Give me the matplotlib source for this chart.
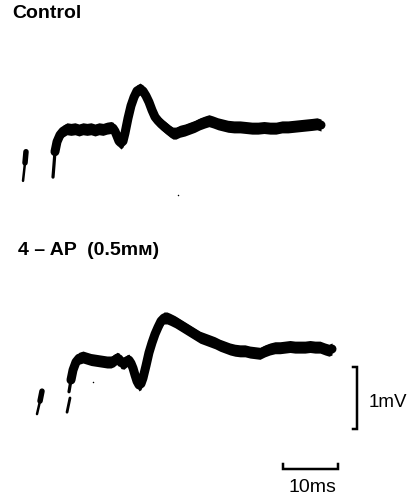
import numpy as np
import matplotlib
matplotlib.use("Agg")
import matplotlib.pyplot as plt

# ---------------- data (time in ms, voltage in mV relative to trace baseline) -------------
ctrl_t = [6.0, 6.18, 6.36, 6.73, 7.27, 7.82, 8.55, 9.27, 10.0, 10.73, 11.45, 12.18, 12.91,
          13.64, 14.36, 15.09, 15.82, 16.55, 16.91, 17.27, 17.64, 18.0, 18.36, 18.73, 19.09,
          19.64, 20.18, 20.73, 21.27, 21.82, 22.36, 22.91, 23.45, 24.0, 24.55, 25.09, 25.64,
          26.18, 26.73, 27.27, 27.82, 28.36, 29.09, 30.0, 30.91, 31.82, 32.73, 33.64, 34.36,
          35.09, 36.0, 36.91, 37.82, 38.91, 40.0, 41.09, 42.18, 43.27, 44.36, 45.45, 46.55,
          47.64, 48.73, 49.82, 50.91, 52.0, 53.09, 54.0, 54.73]
ctrl_v = [-0.76, -0.56, -0.35, -0.19, -0.08, -0.02, 0.02, 0.01, 0.02, 0.0, 0.02, 0.01, 0.02,
          0.0, 0.02, 0.01, 0.03, 0.04, 0.03, -0.02, -0.10, -0.18, -0.21, -0.18, -0.05,
          0.19, 0.39, 0.53, 0.63, 0.66, 0.63, 0.55, 0.45, 0.32, 0.21, 0.15, 0.10,
          0.06, 0.02, -0.02, -0.05, -0.05, -0.02, 0.0, 0.03, 0.06, 0.10, 0.13, 0.15,
          0.13, 0.10, 0.08, 0.06, 0.05, 0.05, 0.04, 0.03, 0.03, 0.04, 0.03, 0.03,
          0.05, 0.05, 0.06, 0.07, 0.08, 0.09, 0.10, 0.08]
ctrl_artifact_t = [1.09, 0.91, 0.55]
ctrl_artifact_v = [-0.35, -0.53, -0.82]

ap_t = [8.91, 9.27, 9.64, 10.18, 10.73, 11.45, 12.18, 12.91, 13.64, 14.36, 15.09, 15.82,
        16.55, 17.09, 17.64, 18.0, 18.36, 18.91, 19.45, 19.82, 20.18, 20.55, 20.91, 21.27,
        21.64, 22.0, 22.36, 22.91, 23.45, 24.0, 24.55, 25.09, 25.64, 26.18, 26.73, 27.27,
        28.18, 29.09, 30.0, 30.91, 31.82, 32.73, 33.64, 34.55, 35.45, 36.36, 37.27, 38.18,
        39.09, 40.0, 40.91, 41.82, 42.73, 43.64, 44.55, 45.45, 46.36, 47.27, 48.18, 49.09,
        50.0, 50.91, 51.82, 52.73, 53.64, 54.55, 55.45, 56.18, 56.73]
ap_v = [-0.48, -0.29, -0.13, 0.0, 0.06, 0.08, 0.06, 0.04, 0.03, 0.02, 0.01, 0.0,
        0.0, 0.02, 0.06, 0.05, -0.01, -0.02, 0.02, 0.03, -0.02, -0.10, -0.21, -0.31,
        -0.37, -0.35, -0.26, -0.06, 0.15, 0.31, 0.45, 0.56, 0.66, 0.71, 0.71, 0.69,
        0.65, 0.60, 0.55, 0.50, 0.45, 0.40, 0.37, 0.34, 0.31, 0.27, 0.24, 0.21,
        0.19, 0.18, 0.18, 0.16, 0.15, 0.14, 0.18, 0.21, 0.23, 0.23, 0.24, 0.25,
        0.24, 0.24, 0.24, 0.25, 0.24, 0.24, 0.21, 0.19, 0.21]
ap_artifact1_t = [4.0, 3.64, 3.09]
ap_artifact1_v = [-0.47, -0.63, -0.84]
ap_artifact2_t = [9.09, 8.55]
ap_artifact2_v = [-0.58, -0.81]

labels = ["Control", "4 – AP  (0.5mᴍ)"]
scale_ms = 10
scale_mv = 1

# ---------------- layout ----------------
W, H, DPI = 418, 498, 100
PX_PER_MS = 5.5
PX_PER_MV = 62.0
X0 = 20  # px of t=0

fig = plt.figure(figsize=(W / DPI, H / DPI), dpi=DPI)
ax = fig.add_axes([0, 0, 1, 1])
ax.set_xlim(-X0 / PX_PER_MS, (W - X0) / PX_PER_MS)
ax.set_ylim(0, H / PX_PER_MV)
ax.axis("off")

def Y(py):
    return (H - py) / PX_PER_MV

def T(px):
    return (px - X0) / PX_PER_MS

pt = 72.0 / DPI  # points per pixel
ink = "black"

def draw_trace(t, v, base, n_thin):
    t = np.asarray(t); v = np.asarray(v) + base
    ax.plot(t[:n_thin + 1], v[:n_thin + 1], color=ink, lw=3.2 * pt, solid_capstyle="round")
    tt = t[n_thin - 1:]; vv = v[n_thin - 1:]
    h = 6.0 / PX_PER_MV
    ax.fill_between(tt[1:], vv[1:] - h, vv[1:] + h, color=ink, lw=0)
    ax.plot(tt, vv, color=ink, lw=9 * pt, solid_capstyle="round", solid_joinstyle="round")

def draw_artifact(t, v, base, thick=True):
    v = np.asarray(v) + base
    if thick:
        ax.plot(t[:2], v[:2], color=ink, lw=5.5 * pt, solid_capstyle="round")
        ax.plot(t[1:], v[1:], color=ink, lw=2.5 * pt, solid_capstyle="round")
    else:
        ax.plot(t, v, color=ink, lw=2.8 * pt, solid_capstyle="round")

ctrl_base = Y(130)
ap_base = Y(362)

draw_trace(ctrl_t, ctrl_v, ctrl_base, 3)
draw_artifact(ctrl_artifact_t, ctrl_artifact_v, ctrl_base)
draw_trace(ap_t, ap_v, ap_base, 2)
draw_artifact(ap_artifact1_t, ap_artifact1_v, ap_base)
draw_artifact(ap_artifact2_t, ap_artifact2_v, ap_base, thick=False)

# specks
ax.plot([T(178), T(93)], [Y(195), Y(382)], "o", color=ink, ms=1.5 * pt, mew=0)

# labels
fam = ["Liberation Sans", "DejaVu Sans"]
ax.text(T(12), Y(18), labels[0], fontsize=14, fontweight="bold", family=fam,
        ha="left", va="baseline")
ax.text(T(18), Y(255), labels[1], fontsize=14, fontweight="bold", family=fam,
        ha="left", va="baseline")

# vertical scale bar (1 mV)
vx = T(357)
vy0 = Y(429)
vy1 = vy0 + scale_mv
tick = 4 / PX_PER_MS
ax.plot([vx - tick, vx, vx, vx - tick], [vy0, vy0, vy1, vy1], color=ink,
        lw=2.5 * pt, solid_joinstyle="miter")
ax.text(T(369), Y(407), "1mV", fontsize=13.5, family=fam, ha="left", va="baseline")

# horizontal scale bar (10 ms)
hx0 = T(283)
hx1 = hx0 + scale_ms
hy = Y(469)
htick = 5 / PX_PER_MV
ax.plot([hx0, hx0, hx1, hx1], [hy + htick, hy, hy, hy + htick], color=ink,
        lw=2.5 * pt, solid_joinstyle="miter")
ax.text((hx0 + hx1) / 2 + 0.3, Y(492), "10ms", fontsize=14, family=fam, ha="center",
        va="baseline")

fig.savefig("out.png", dpi=DPI, facecolor="white")
